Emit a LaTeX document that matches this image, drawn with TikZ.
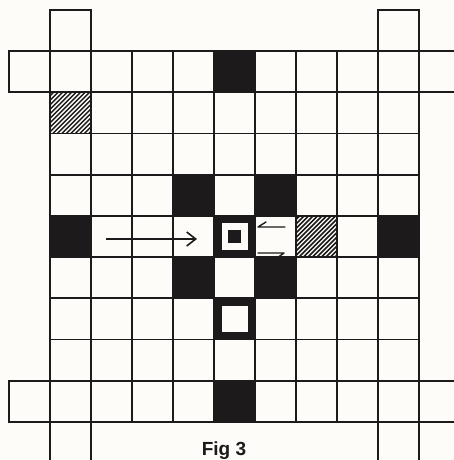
\documentclass[tikz,border=0pt]{standalone}
\usepackage{fontspec}
\setmainfont{Liberation Sans}
\usetikzlibrary{arrows.meta}
\definecolor{ink}{RGB}{28,26,26}
\definecolor{paper}{RGB}{253,252,249}
\newcommand{\cellat}[2]{({50+41*(#1)},{51+41.2*(#2)}) rectangle ++(41,41.2)}
\begin{document}
\begin{tikzpicture}[x=1pt,y=-1pt,
  gridline/.style={draw=ink,line width=1.8pt,line join=miter},
  blackcell/.style={fill=ink},
  hatchline/.style={draw=ink,line width=1.5pt},
  harp/.style={draw=ink,line width=1.4pt,line cap=round,line join=round},
  arrowline/.style={draw=ink,line width=1.5pt,-{Straight Barb[length=9pt,width=14pt,line width=1.6pt]}},
  caption/.style={font=\bfseries\fontsize{19}{19}\selectfont,text=ink,inner sep=0pt}]
\useasboundingbox (0,0) rectangle (454,460);
\fill[paper] (0,0) rectangle (454,460);
\clip (0,0) rectangle (454,460);
% black cells
\foreach \c/\r in {4/0,3/3,5/3,0/4,8/4,3/5,5/5,4/8}
  \fill[blackcell] \cellat{\c}{\r};
% hatched cells
\foreach \c/\r in {0/1,6/4}{
  \begin{scope}
    \clip \cellat{\c}{\r};
    \foreach \k in {0,4.5,...,86}
      \draw[hatchline] ({50+41*\c-43+\k},{51+41.2*(\r+1)+1}) -- ++(46,-46);
  \end{scope}
}
% framed cells
\fill[ink] \cellat{4}{4};
\fill[paper] ({50+41*4+7.5},{51+41.2*4+7.5}) rectangle ++(26,26.2);
\fill[ink] ({50+41*4+14},{51+41.2*4+14.3}) rectangle ++(13,13);
\fill[ink] \cellat{4}{6};
\fill[paper] ({50+41*4+7.5},{51+41.2*6+7.5}) rectangle ++(26,26.2);
% grid
\foreach \c in {0,...,8}
  \foreach \r in {0,...,8}
    \draw[gridline] \cellat{\c}{\r};
\foreach \c/\r in {-1/0,9/0,-1/8,9/8,0/-1,8/-1,0/9,8/9}
  \draw[gridline] \cellat{\c}{\r};
% arrow
\coordinate (arrS) at (106,239);
\coordinate (arrE) at (197,239);
\draw[arrowline] (arrS) -- (arrE);
% harpoons
\coordinate (huR) at (285,227);
\coordinate (huL) at (258,227);
\coordinate (hlL) at (258,253);
\coordinate (hlR) at (284,253);
\draw[harp] (huR) -- (huL) -- ++(8,-5);
\draw[harp] (hlL) -- (hlR) -- ++(-7,5);
% caption
\node[caption] (cap) at (224,451) {Fig 3};
\end{tikzpicture}
\end{document}
